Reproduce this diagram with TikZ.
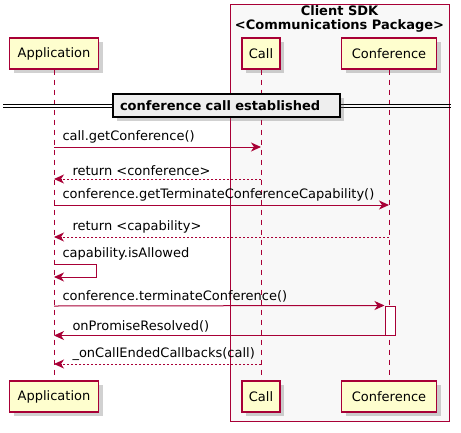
\documentclass[tikz,border=0pt]{standalone}
\usepackage{fontspec}
\setmainfont{DejaVu Sans}
\usetikzlibrary{arrows.meta,shadows}
\definecolor{umlred}{HTML}{A80036}
\definecolor{umlyellow}{HTML}{FEFECE}
\definecolor{boxgray}{HTML}{F8F8F8}
\definecolor{sepgray}{HTML}{EEEEEE}
\tikzset{
  part/.style={draw=umlred,fill=umlyellow,line width=1.2pt,minimum height=31pt,
    inner sep=0pt,font=\fontsize{13}{15}\selectfont,
    drop shadow={shadow xshift=4pt,shadow yshift=-4pt,opacity=.3,fill=black!60}},
  life/.style={umlred,line width=0.8pt,dash pattern=on 5pt off 5pt},
  msg/.style={umlred,line width=1pt,-{Stealth[length=10pt,width=9pt,inset=3pt]}},
  ret/.style={msg,dash pattern=on 2pt off 2pt},
  lbl/.style={inner sep=0pt,font=\fontsize{13}{15}\selectfont,text=black,yshift=3pt},
  sepline/.style={black,line width=1pt},
}
\begin{document}
\begin{tikzpicture}[x=1pt,y=-1pt]
    \useasboundingbox (0,0) rectangle (461,432);

    % group box
    \draw [umlred,fill=boxgray,line width=1pt] (230,4) rectangle (449,421);
    \node [font=\bfseries\fontsize{13}{14}\selectfont,align=center] (sdk) at (339.5,19)
      {Client SDK\\<Communications Package>};

    % participants
    \node [part,minimum width=89pt] (app) at (54,53.5) {Application};
    \node [part,minimum width=38pt] (call) at (261,53.5) {Call};
    \node [part,minimum width=95pt] (conf) at (389,53.5) {Conference};
    \node [part,minimum width=89pt] (app2) at (54,396.5) {Application};
    \node [part,minimum width=38pt] (call2) at (261,396.5) {Call};
    \node [part,minimum width=95pt] (conf2) at (389,396.5) {Conference};

    \draw [life] (app) -- (app2);
    \draw [life] (call) -- (call2);
    \draw [life] (conf) -- (conf2);

    % separator
    \coordinate (sepl) at (3,104);
    \coordinate (sepr) at (451,104);
    \draw [sepline] (sepl) -- (sepr);
    \draw [sepline] ([yshift=-3pt]sepl) -- ([yshift=-3pt]sepr);
    \node [draw=black,fill=sepgray,line width=1.5pt,minimum width=227pt,minimum height=23pt,
      inner xsep=7pt,text width=213pt,align=left,font=\bfseries\fontsize{13}{15}\selectfont,
      drop shadow={shadow xshift=4pt,shadow yshift=-4pt,opacity=.3,fill=black!60}]
      (sep) at (226.5,105.5) {conference call established};

    % message rows
    \coordinate (m1) at (0,147);
    \coordinate (m2) at (0,179);
    \coordinate (m3) at (0,205);
    \coordinate (m4) at (0,237);
    \coordinate (s1) at (0,264);
    \coordinate (s2) at (0,277);
    \coordinate (m5) at (0,306);
    \coordinate (m7) at (0,364);

    \node [draw=umlred,fill=white,line width=1pt,minimum width=10pt,minimum height=29pt,
      inner sep=0pt] (actv) at (390,320.5) {};

    \draw [msg] (app |- m1) -- (call |- m1)
      node [lbl,pos=0,anchor=south west,xshift=8pt] {call.getConference()};
    \draw [ret] (call |- m2) -- (app |- m2)
      node [lbl,pos=1,anchor=south west,xshift=18pt] {return <conference>};
    \draw [msg] (app |- m3) -- (conf |- m3)
      node [lbl,pos=0,anchor=south west,xshift=8pt] {conference.getTerminateConferenceCapability()};
    \draw [ret] (conf |- m4) -- (app |- m4)
      node [lbl,pos=1,anchor=south west,xshift=18pt] {return <capability>};
    \draw [msg] (app |- s1) node [lbl,anchor=south west,xshift=8pt] {capability.isAllowed}
      -- ++(42,0) -- ++(0,13) -- (app |- s2);
    \draw [msg] (app |- m5) -- (actv.north west)
      node [lbl,pos=0,anchor=south west,xshift=8pt] {conference.terminateConference()};
    \draw [msg] (actv.south west) -- (app |- actv.south)
      node [lbl,pos=1,anchor=south west,xshift=18pt] {onPromiseResolved()};
    \draw [ret] (call |- m7) -- (app |- m7)
      node [lbl,pos=1,anchor=south west,xshift=18pt] {\_onCallEndedCallbacks(call)};

\end{tikzpicture}
\end{document}
